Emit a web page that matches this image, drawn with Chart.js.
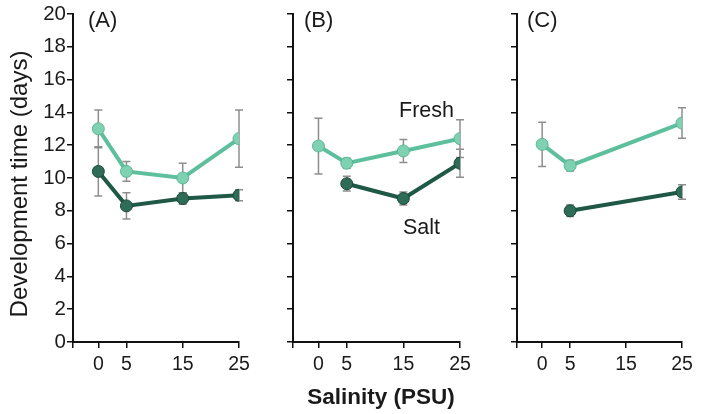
<!DOCTYPE html>
<html>
<head>
<meta charset="utf-8">
<script src="https://cdn.jsdelivr.net/npm/chart.js@4.4.1/dist/chart.umd.min.js"></script>
<style>
  html, body { margin: 0; padding: 0; background: #fff; }
  #wrap { position: relative; width: 709px; height: 414px; overflow: hidden; }
  canvas { position: absolute; top: 0; }
</style>
</head>
<body>
<div id="wrap">
  <canvas id="cA" width="262" height="414" style="left:0px"></canvas>
  <canvas id="cB" width="202" height="414" style="left:280px"></canvas>
  <canvas id="cC" width="209" height="414" style="left:500px"></canvas>
</div>
<script>
// ---- data ----
const salinity = [0, 5, 15, 25];
const yTicks = [0, 2, 4, 6, 8, 10, 12, 14, 16, 18, 20];
const panelNames = ['(A)', '(B)', '(C)'];
const seriesNames = ['Fresh', 'Salt'];
const yTitleText = 'Development time (days)';
const xTitleText = 'Salinity (PSU)';

const freshA    = [13.0, 10.4, 10.0, 12.4];
const freshAErr = [1.15, 0.6, 0.9, 1.75];
const saltA     = [10.4, 8.3, 8.75, 8.95];
const saltAErr  = [1.5, 0.8, 0.35, 0.33];

const freshB    = [11.95, 10.9, 11.65, 12.4];
const freshBErr = [1.7, 0.3, 0.7, 1.15];
const saltB     = [null, 9.65, 8.75, 10.9];
const saltBErr  = [null, 0.45, 0.4, 0.85];

const freshC    = [12.05, 10.75, null, 13.35];
const freshCErr = [1.35, 0.33, null, 0.93];
const saltC     = [null, 8.0, null, 9.15];
const saltCErr  = [null, 0.35, null, 0.44];

// ---- styles ----
const FONT = '"Liberation Sans", Arial, Helvetica, sans-serif';
const TEXT = '#1a1a1a';
const FRESH_LINE = '#5ebf9d';
const FRESH_PT = '#80d0b2';
const FRESH_PT_BORDER = '#5ab894';
const SALT_LINE = '#1f5846';
const SALT_PT = '#2e6c57';
const SALT_PT_BORDER = '#1c4a3b';
const ERR = '#8e8e8e';

const errorBars = {
  id: 'errorBars',
  beforeDatasetsDraw(chart) {
    const ctx = chart.ctx;
    const xs = chart.scales.x, ys = chart.scales.y;
    ctx.save();
    ctx.strokeStyle = ERR;
    ctx.lineWidth = 1.5;
    chart.data.datasets.forEach(ds => {
      ds.data.forEach((p, i) => {
        const e = ds.errors[i];
        if (p.y == null || e == null) return;
        const x = xs.getPixelForValue(p.x);
        const y1 = ys.getPixelForValue(p.y - e);
        const y2 = ys.getPixelForValue(p.y + e);
        ctx.beginPath();
        ctx.moveTo(x, y1); ctx.lineTo(x, y2);
        ctx.moveTo(x - 4, y1); ctx.lineTo(x + 4, y1);
        ctx.moveTo(x - 4, y2); ctx.lineTo(x + 4, y2);
        ctx.stroke();
      });
    });
    ctx.restore();
  }
};

const panelText = {
  id: 'panelText',
  afterDraw(chart, args, opts) {
    const ctx = chart.ctx;
    ctx.save();
    ctx.fillStyle = TEXT;
    ctx.textBaseline = 'middle';
    (opts.items || []).forEach(it => {
      ctx.save();
      ctx.font = (it.bold ? 'bold ' : '') + it.size + 'px ' + FONT;
      ctx.textAlign = it.align || 'left';
      ctx.translate(it.abs ? it.dx : chart.chartArea.left + it.dx, it.y);
      if (it.rot) ctx.rotate(it.rot);
      ctx.fillText(it.text, 0, 0);
      ctx.restore();
    });
    ctx.restore();
  }
};

function pts(vals) {
  return salinity.map((s, i) => ({ x: s, y: vals[i] }));
}

function makeChart(id, fresh, freshErr, salt, saltErr, cfg) {
  const xTickVals = [-4.5].concat(salinity);
  return new Chart(document.getElementById(id), {
    type: 'line',
    data: {
      datasets: [
        {
          label: seriesNames[0],
          data: pts(fresh), errors: freshErr,
          borderColor: FRESH_LINE, borderWidth: 4,
          pointBackgroundColor: FRESH_PT, pointBorderColor: FRESH_PT_BORDER,
          pointBorderWidth: 1, pointRadius: 6, tension: 0, spanGaps: true
        },
        {
          label: seriesNames[1],
          data: pts(salt), errors: saltErr,
          borderColor: SALT_LINE, borderWidth: 4,
          pointBackgroundColor: SALT_PT, pointBorderColor: SALT_PT_BORDER,
          pointBorderWidth: 1, pointRadius: 6, tension: 0, spanGaps: true
        }
      ]
    },
    options: {
      responsive: false,
      animation: false,
      devicePixelRatio: 1,
      layout: { padding: { top: 14, left: 0, right: cfg.padRight, bottom: 0 } },
      plugins: {
        legend: { display: false },
        tooltip: { enabled: false },
        panelText: { items: cfg.texts }
      },
      scales: {
        x: {
          type: 'linear', min: -4.5, max: 25,
          afterBuildTicks: s => { s.ticks = xTickVals.map(v => ({ value: v })); },
          afterFit: s => { s.height = 72; },
          ticks: {
            autoSkip: false, maxRotation: 0, padding: 5,
            color: TEXT, font: { family: FONT, size: 19.5 },
            callback: v => (salinity.includes(v) ? String(v) : '')
          },
          grid: { drawOnChartArea: false, drawTicks: true, tickLength: 6, color: '#111', lineWidth: 1.5 },
          border: { display: true, color: '#111', width: 2 }
        },
        y: {
          min: 0, max: 20,
          afterBuildTicks: s => { s.ticks = yTicks.map(v => ({ value: v })); },
          afterFit: s => { s.width = cfg.yWidth; },
          ticks: {
            display: cfg.yLabels, padding: 1,
            color: TEXT, font: { family: FONT, size: 20.5 }
          },
          grid: { drawOnChartArea: false, drawTicks: true, tickLength: 6, color: '#111', lineWidth: 1.5 },
          border: { display: true, color: '#111', width: 2 }
        }
      }
    },
    plugins: [errorBars, panelText]
  });
}

makeChart('cA', freshA, freshAErr, saltA, saltAErr, {
  padRight: 23, yWidth: 73, yLabels: true,
  texts: [
    { text: panelNames[0], dx: 15, y: 21, size: 22 },
    { text: yTitleText, dx: 20, y: 184, size: 24, abs: true, align: 'center', rot: -Math.PI / 2 }
  ]
});
makeChart('cB', freshB, freshBErr, saltB, saltBErr, {
  padRight: 22, yWidth: 13, yLabels: false,
  texts: [
    { text: panelNames[1], dx: 11, y: 21, size: 22 },
    { text: seriesNames[0], dx: 106, y: 111, size: 21.5 },
    { text: seriesNames[1], dx: 110, y: 228, size: 21.5 },
    { text: xTitleText, dx: 101, y: 398, size: 22.5, abs: true, align: 'center', bold: true }
  ]
});
makeChart('cC', freshC, freshCErr, saltC, saltCErr, {
  padRight: 27, yWidth: 17, yLabels: false,
  texts: [{ text: panelNames[2], dx: 10, y: 21, size: 22 }]
});
</script>
</body>
</html>
